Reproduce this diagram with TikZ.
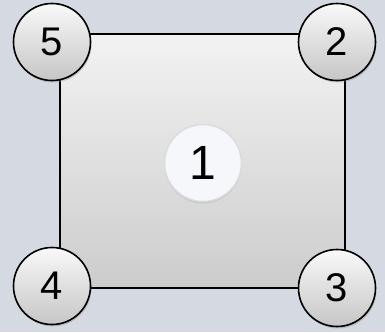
\documentclass[tikz,border=0pt]{standalone}
\usepackage{fontspec}
\setmainfont{Liberation Sans}
\usetikzlibrary{shadows}
\definecolor{bg}{HTML}{D5DAE2}
\definecolor{cfill}{HTML}{F6F7FA}
\definecolor{cedge}{HTML}{DADBDE}
\tikzset{
  x=1pt,y=-1pt,
  numcircle/.style={circle, draw=black, line width=1.6pt, minimum size=77pt, inner sep=0pt,
    top color=white!95!gray, bottom color=gray!45, font=\fontsize{40}{41}\selectfont,
    drop shadow={shadow xshift=1pt,shadow yshift=-2pt,opacity=0.35}},
  centercircle/.style={circle, draw=cedge, line width=1.5pt, minimum size=77pt, inner sep=0pt,
    fill=cfill, font=\fontsize{48}{49}\selectfont,
    drop shadow={shadow xshift=0pt,shadow yshift=-2pt,opacity=0.2}},
}
\begin{document}
\begin{tikzpicture}
\fill[bg] (0,0) rectangle (385,332);
\useasboundingbox (0,0) rectangle (385,332);
\coordinate (tl) at (60,34);
\coordinate (br) at (345,288);
\shade[top color=gray!10, bottom color=gray!40, draw=black, line width=1.6pt] (tl) rectangle (br);
\node[centercircle] (n1) at (203,163) {1};
\node[numcircle] (n5) at (52,42) {5};
\node[numcircle] (n2) at (337,42) {2};
\node[numcircle] (n4) at (52,286) {4};
\node[numcircle] (n3) at (337,288) {3};
\end{tikzpicture}
\end{document}
